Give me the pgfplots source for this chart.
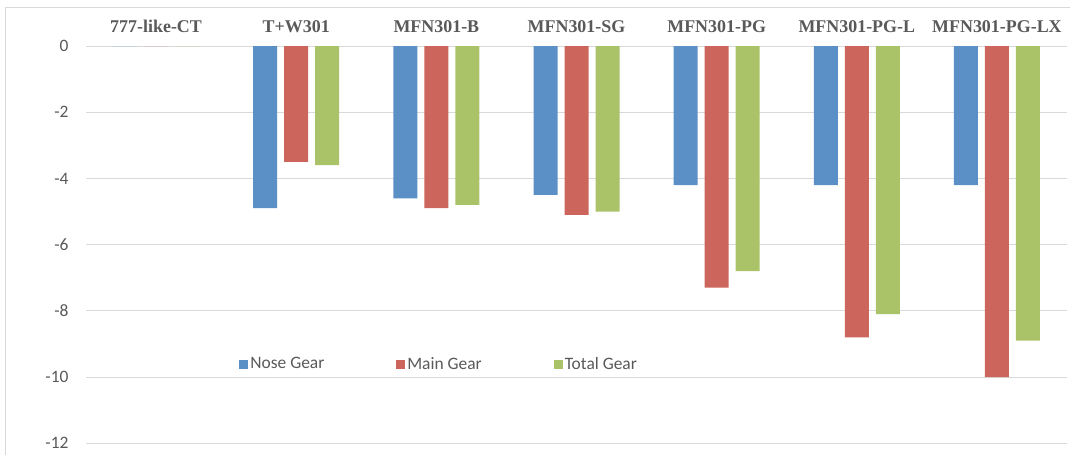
\documentclass[border=0pt]{standalone}
\usepackage{pgfplots}
\pgfplotsset{compat=1.18}
\usepackage{fontspec}
\setmainfont{Carlito}
\newfontfamily\catfont{Liberation Serif}
\definecolor{cblue}{RGB}{91,144,199}
\definecolor{cred}{RGB}{204,101,92}
\definecolor{cgreen}{RGB}{170,195,104}
\definecolor{ctext}{RGB}{89,89,89}
\definecolor{cgrid}{RGB}{217,217,217}
\begin{document}
\begin{tikzpicture}
\path[use as bounding box] (0bp,0bp) rectangle (1086bp,-455bp);
\draw[cgrid,line width=1bp] (5.5bp,-455bp) -- (5.5bp,-7.5bp) -- (1070bp,-7.5bp);
\begin{axis}[
  at={(86bp,-46bp)}, anchor=north west,
  scale only axis, width=981bp, height=408.8bp,
  xmin=-0.5, xmax=6.5, ymin=-12.35, ymax=0,
  axis line style={draw=none},
  clip=false,
  ytick={0,-2,-4,-6,-8,-10,-12},
  ymajorgrids, grid style={cgrid,line width=1bp},
  xtick=\empty,
  major tick length=0pt,
  yticklabel style={font=\fontsize{17.5}{17.5}\selectfont, text=ctext, xshift=-14bp},
  /pgf/number format/assume math mode=true,
  ybar, bar width=24bp,
  legend style={at={(0.36,0.222)}, anchor=center, draw=none, fill=none,
    font=\fontsize{17.5}{17.5}\selectfont, text=ctext, legend columns=3,
    /tikz/every even column/.append style={column sep=70bp}},
  legend image code/.code={\fill[#1] (-3bp,-4.5bp) rectangle (6bp,4.5bp);},
]
\addplot[fill=cblue, draw=none, bar shift=-31bp] coordinates {(0,0) (1,-4.9) (2,-4.6) (3,-4.5) (4,-4.2) (5,-4.2) (6,-4.2)};
\addplot[fill=cred, draw=none, bar shift=0bp] coordinates {(0,0) (1,-3.5) (2,-4.9) (3,-5.1) (4,-7.3) (5,-8.8) (6,-10.0)};
\addplot[fill=cgreen, draw=none, bar shift=31bp] coordinates {(0,0) (1,-3.6) (2,-4.8) (3,-5.0) (4,-6.8) (5,-8.1) (6,-8.9)};
\legend{Nose Gear, Main Gear, Total Gear}
\foreach \i/\lab in {0/777-like-CT,1/T+W301,2/MFN301-B,3/MFN301-SG,4/MFN301-PG,5/MFN301-PG-L,6/MFN301-PG-LX}{
  \edef\temp{\noexpand\node[font=\noexpand\catfont\noexpand\bfseries\noexpand\fontsize{18}{18}\noexpand\selectfont, text=ctext, anchor=base] at (axis cs:\i,0) [yshift=14bp] {\lab};}
  \temp
}
\end{axis}
\end{tikzpicture}
\end{document}
